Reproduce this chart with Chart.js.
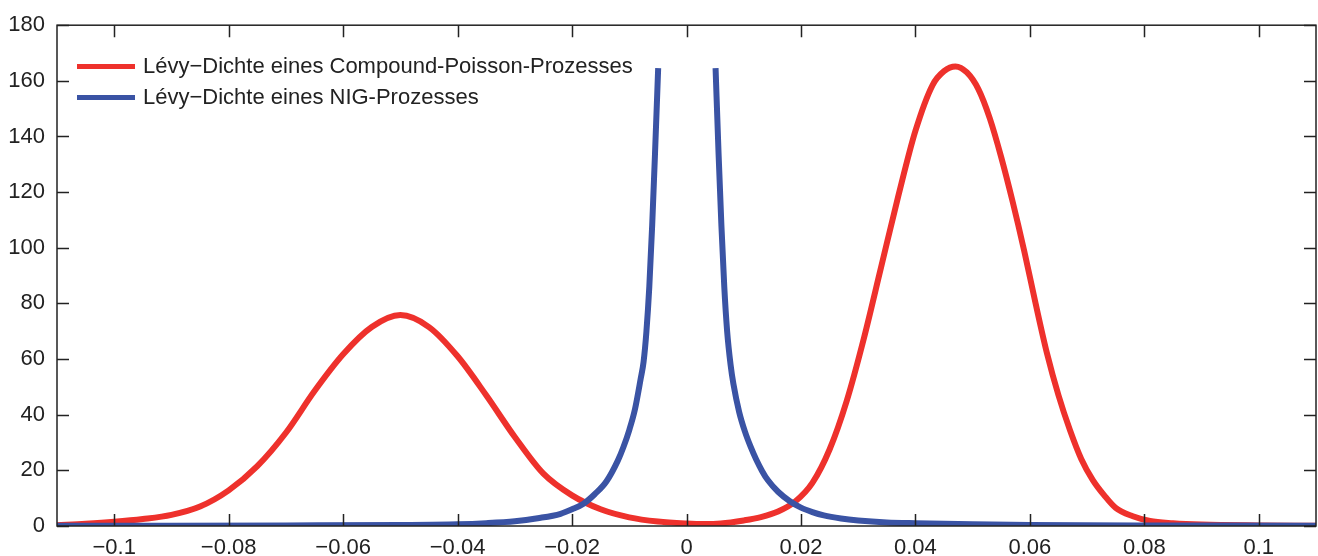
<!DOCTYPE html>
<html>
<head>
<meta charset="utf-8">
<script src="https://cdn.jsdelivr.net/npm/chart.js@4.4.0/dist/chart.umd.min.js"></script>
<style>
  html, body { margin: 0; padding: 0; background: #fff; }
  #wrap { position: relative; width: 1318px; height: 556px; }
  .leg { position: absolute; left: 77px; font-family: "Liberation Sans", Arial, sans-serif; font-size: 22px; color: #222; white-space: nowrap; }
  .leg span.sw { display: inline-block; width: 58px; height: 5px; vertical-align: middle; margin-right: 8px; }
  .leg span.tx { vertical-align: middle; }
</style>
</head>
<body>
<div id="wrap">
  <canvas id="c" width="1318" height="556"></canvas>
  <div class="leg" style="top:52px"><span class="sw" style="background:#ee312c"></span><span class="tx">Lévy−Dichte eines Compound-Poisson-Prozesses</span></div>
  <div class="leg" style="top:83px"><span class="sw" style="background:#3a53a4"></span><span class="tx">Lévy−Dichte eines NIG-Prozesses</span></div>
</div>
<script>
// values
const xTicks = [-0.1, -0.08, -0.06, -0.04, -0.02, 0, 0.02, 0.04, 0.06, 0.08, 0.1];
const yTicks = [0, 20, 40, 60, 80, 100, 120, 140, 160, 180];

// compound poisson density
const cpX = [-0.110, -0.105, -0.100, -0.095, -0.090, -0.085, -0.080, -0.075, -0.070, -0.065, -0.060,
             -0.055, -0.050, -0.045, -0.040, -0.035, -0.030, -0.025, -0.020, -0.015, -0.010, -0.005,
             0.000, 0.003, 0.006, 0.010, 0.013, 0.016, 0.019, 0.022, 0.025, 0.028, 0.031, 0.034,
             0.037, 0.040, 0.043, 0.045, 0.047, 0.049, 0.051, 0.053, 0.055, 0.057, 0.059, 0.061,
             0.063, 0.065, 0.067, 0.069, 0.071, 0.073, 0.075, 0.078, 0.081, 0.085, 0.090, 0.100, 0.110];
const cpY = [0.3, 0.8, 1.5, 2.5, 4.0, 7.0, 12.8, 21.5, 33.5, 48.5, 61.7,
             71.5, 75.8, 71.5, 61, 47, 32, 18.8, 11, 6, 3.1, 1.6,
             0.9, 0.7, 0.9, 2.0, 3.2, 5.2, 8.8, 15.5, 27.5, 45, 67.5, 93,
             118.5, 142, 158.5, 163.5, 165.2, 163, 157, 146.5, 132.5, 116.5, 99, 80,
             62, 47, 34.5, 24, 16.5, 11, 6.5, 3.5, 1.8, 1.0, 0.5, 0.2, 0.1];

// NIG density (two branches, gap at 0)
const nigX = [-0.110, -0.090, -0.070, -0.050, -0.040, -0.035, -0.030, -0.026, -0.022, -0.020, -0.018,
              -0.016, -0.014, -0.012, -0.011, -0.010, -0.009, -0.008, -0.0075, -0.007, -0.0065,
              -0.006, -0.0055, -0.00495,
              0,
              0.00508, 0.0056, 0.0061, 0.0066, 0.0071, 0.0077, 0.0082, 0.0092, 0.0102, 0.0112,
              0.0122, 0.0132, 0.0142, 0.016, 0.018, 0.020, 0.022, 0.024, 0.027, 0.030, 0.035, 0.040,
              0.050, 0.060, 0.080, 0.110];
const nigY = [0.05, 0.1, 0.2, 0.35, 0.6, 1.0, 1.7, 2.8, 4.4, 6.0, 8.0,
              11.5, 16, 23.5, 28.5, 34.5, 42, 53, 59, 70, 86,
              108, 134, 164.6,
              null,
              164.6, 134, 108, 86, 70, 58, 51, 41, 34, 28.5,
              23.8, 19.8, 16.5, 12.3, 9.0, 6.6, 5.0, 3.8, 2.7, 2.0, 1.3, 1.0,
              0.6, 0.4, 0.2, 0.1];

const RED = '#ee312c';
const BLUE = '#3a53a4';
const AXIS = '#222';
const FONT = '"Liberation Sans", Arial, sans-serif';

function pts(xs, ys) {
    return xs.map((x, i) => ({ x: x, y: ys[i] }));
}

function fmt(v) {
    const s = String(Math.round(v * 1000) / 1000);
    return s.replace('-', '\u2212');
}

// box and inward ticks on all four sides
const frame = {
    id: 'frame',
    afterDraw(chart) {
        const ctx = chart.ctx;
        const a = chart.chartArea;
        const xs = chart.scales.x, ys = chart.scales.y;
        const len = 12;
        ctx.save();
        ctx.strokeStyle = AXIS;
        ctx.lineWidth = 1.5;
        ctx.beginPath();
        xTicks.forEach(v => {
            const px = Math.round(xs.getPixelForValue(v)) + 0.5;
            ctx.moveTo(px, a.bottom); ctx.lineTo(px, a.bottom - len);
            ctx.moveTo(px, a.top); ctx.lineTo(px, a.top + len);
        });
        yTicks.forEach(v => {
            const py = Math.round(ys.getPixelForValue(v)) + 0.5;
            ctx.moveTo(a.left, py); ctx.lineTo(a.left + len, py);
            ctx.moveTo(a.right, py); ctx.lineTo(a.right - len, py);
        });
        ctx.stroke();
        ctx.strokeRect(a.left, a.top, a.right - a.left, a.bottom - a.top);
        ctx.restore();
    }
};

new Chart(document.getElementById('c'), {
    type: 'line',
    data: {
        datasets: [
            {
                label: 'Lévy−Dichte eines Compound-Poisson-Prozesses',
                data: pts(cpX, cpY),
                borderColor: RED,
                borderWidth: 6,
                pointRadius: 0,
                cubicInterpolationMode: 'monotone',
                order: 1
            },
            {
                label: 'Lévy−Dichte eines NIG-Prozesses',
                data: pts(nigX, nigY),
                borderColor: BLUE,
                borderWidth: 6,
                pointRadius: 0,
                cubicInterpolationMode: 'monotone',
                spanGaps: false,
                order: 0
            }
        ]
    },
    options: {
        responsive: false,
        animation: false,
        layout: { padding: { top: 22, right: 2, left: 0, bottom: 0 } },
        plugins: { legend: { display: false }, tooltip: { enabled: false } },
        scales: {
            x: {
                type: 'linear',
                min: -0.11,
                max: 0.11,
                grid: { display: false, drawTicks: false },
                border: { display: false },
                afterBuildTicks: s => { s.ticks = xTicks.map(v => ({ value: v })); },
                afterFit: s => { s.height = 30; },
                ticks: {
                    padding: 9,
                    maxRotation: 0,
                    autoSkip: false,
                    color: AXIS,
                    font: { family: FONT, size: 22 },
                    callback: v => fmt(v)
                }
            },
            y: {
                min: 0,
                max: 180,
                grid: { display: false, drawTicks: false },
                border: { display: false },
                afterBuildTicks: s => { s.ticks = yTicks.map(v => ({ value: v })); },
                afterFit: s => { s.width = 57; },
                ticks: {
                    padding: 12,
                    color: AXIS,
                    font: { family: FONT, size: 22 },
                    callback: v => String(v)
                }
            }
        }
    },
    plugins: [frame]
});
</script>
</body>
</html>
